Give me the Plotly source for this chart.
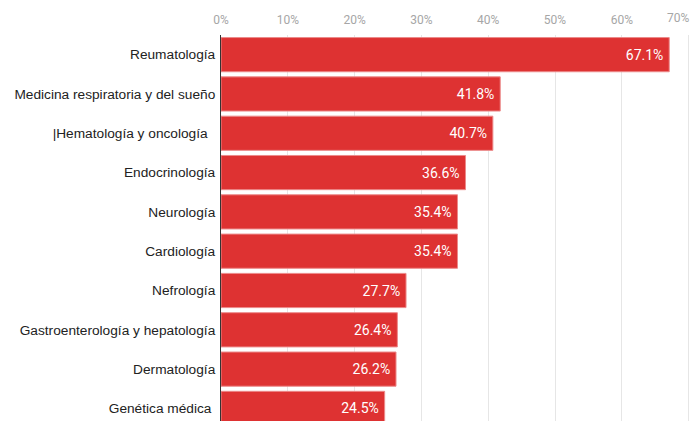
import plotly.graph_objects as go

categories = [
    "Reumatología",
    "Medicina respiratoria y del sueño",
    "|Hematología y oncología\u00a0\u00a0",
    "Endocrinología",
    "Neurología",
    "Cardiología",
    "Nefrología",
    "Gastroenterología y hepatología",
    "Dermatología",
    "Genética médica\u00a0",
]
values = [67.1, 41.8, 40.7, 36.6, 35.4, 35.4, 27.7, 26.4, 26.2, 24.5]
labels = [f"{v:.1f}%\u2009" for v in values]
tick_vals = [0, 10, 20, 30, 40, 50, 60, 70]
tick_text = [f"{t}%" for t in tick_vals]

fig = go.Figure(
    go.Bar(
        x=values,
        y=list(range(len(categories))),
        orientation="h",
        marker=dict(color="#DE3232", line=dict(color="#EC8A8A", width=1)),
        width=0.87,
        text=labels,
        textposition="inside",
        insidetextanchor="end",
        textangle=0,
        textfont=dict(family="Roboto", size=14, color="white"),
        cliponaxis=True,
    )
)

fig.update_layout(
    width=691,
    height=421,
    margin=dict(l=221, r=0, t=35, b=0),
    paper_bgcolor="white",
    plot_bgcolor="white",
    showlegend=False,
    bargap=0.13,
    xaxis=dict(
        side="top",
        range=[0, 70.36],
        tickvals=tick_vals,
        ticktext=tick_text[:-1] + [""],
        tickfont=dict(family="Roboto", size=12, color="#a6a6a6"),
        showgrid=True,
        gridcolor="#e6e6e6",
        gridwidth=1,
        zeroline=False,
        showline=False,
        ticks="",
        ticklabelstandoff=8,
        fixedrange=True,
    ),
    yaxis=dict(
        range=[9.32, -0.5],
        tickvals=list(range(len(categories))),
        ticktext=categories,
        tickfont=dict(family="Liberation Sans, Arial", size=13.7, color="#222222"),
        showgrid=False,
        zeroline=False,
        showline=True,
        linecolor="#333333",
        linewidth=1,
        ticks="",
        ticklabelstandoff=2,
        fixedrange=True,
    ),
    annotations=[
        dict(
            x=1, xref="paper", y=1, yref="paper",
            xanchor="right", yanchor="bottom", yshift=8,
            text=tick_text[-1], showarrow=False,
            font=dict(family="Roboto", size=12, color="#a6a6a6"),
        )
    ],
)

fig.write_html("out.html")
